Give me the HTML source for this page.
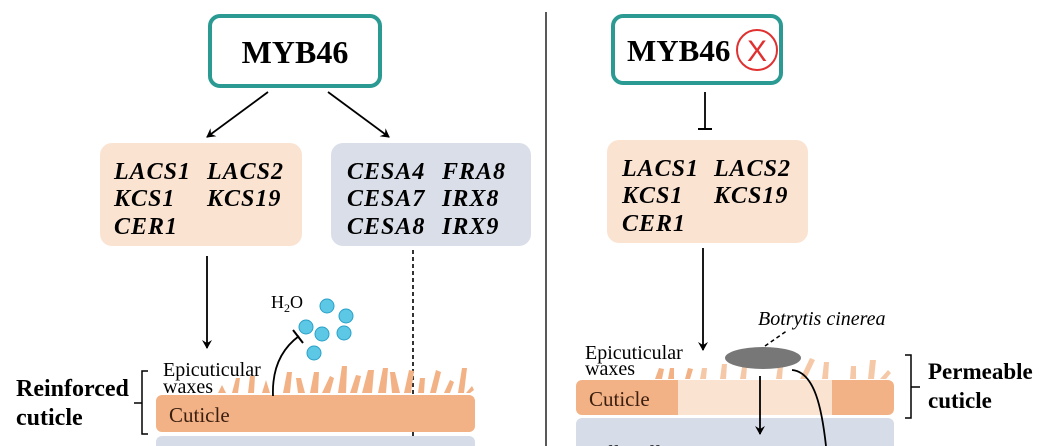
<!DOCTYPE html><html><head><style>body{margin:0;background:#fff}svg{display:block}</style></head><body>
<svg width="1050" height="446" viewBox="0 0 1050 446" xmlns="http://www.w3.org/2000/svg" font-family="Liberation Serif, serif">
<defs><marker id="a" markerWidth="10" markerHeight="10" refX="8" refY="5" orient="auto" markerUnits="userSpaceOnUse"><path d="M0,0 L9,5 L0,10 L3,5 Z" fill="#000"/></marker></defs>
<line x1="546" y1="12" x2="546" y2="446" stroke="#222" stroke-width="1.5"/>
<rect x="210" y="16" width="170" height="70" rx="10" fill="#fff" stroke="#2a9a92" stroke-width="4"/>
<text x="295" y="63" font-size="32" font-weight="bold" text-anchor="middle">MYB46</text>
<rect x="613" y="16" width="168" height="67" rx="10" fill="#fff" stroke="#2a9a92" stroke-width="4"/>
<text x="627" y="61" font-size="31" font-weight="bold">MYB46</text>
<circle cx="757" cy="50" r="20" fill="#fff" stroke="#e03030" stroke-width="2"/>
<text x="757" y="61" font-size="30" fill="#e03030" text-anchor="middle" font-family="Liberation Sans, sans-serif">X</text>
<line x1="268" y1="92" x2="207" y2="137" stroke="#000" stroke-width="1.8" marker-end="url(#a)"/>
<line x1="328" y1="92" x2="389" y2="137" stroke="#000" stroke-width="1.8" marker-end="url(#a)"/>
<line x1="705" y1="92" x2="705" y2="129" stroke="#000" stroke-width="1.8"/>
<line x1="698" y1="129" x2="712" y2="129" stroke="#000" stroke-width="2"/>
<g font-size="24" font-weight="bold" font-style="italic" letter-spacing="1">
<rect x="100" y="143" width="202" height="103" rx="12" fill="#fbe3d2"/>
<text x="114" y="179">LACS1</text><text x="207" y="179">LACS2</text>
<text x="114" y="206">KCS1</text><text x="207" y="206">KCS19</text>
<text x="114" y="234">CER1</text>
<rect x="331" y="143" width="200" height="103" rx="12" fill="#d9dee9"/>
<text x="347" y="179">CESA4</text><text x="442" y="179">FRA8</text>
<text x="347" y="206">CESA7</text><text x="442" y="206">IRX8</text>
<text x="347" y="234">CESA8</text><text x="442" y="234">IRX9</text>
<rect x="607" y="140" width="201" height="103" rx="12" fill="#fbe3d2"/>
<text x="622" y="176">LACS1</text><text x="714" y="176">LACS2</text>
<text x="622" y="203">KCS1</text><text x="714" y="203">KCS19</text>
<text x="622" y="231">CER1</text>
</g>
<line x1="207" y1="256" x2="207" y2="348" stroke="#000" stroke-width="1.8" marker-end="url(#a)"/>
<line x1="413" y1="250" x2="413" y2="444" stroke="#000" stroke-width="1.6" stroke-dasharray="4,3" marker-end="url(#a)"/>
<line x1="703" y1="248" x2="703" y2="350" stroke="#000" stroke-width="1.8" marker-end="url(#a)"/>
<rect x="156" y="436" width="319" height="20" rx="6" fill="#d6dce8"/>
<g fill="#f2b285">
<path d="M218,393 L222,385 L226,393 Z M232,393 L236,378 L240,378 L238,393 Z M248,393 L250,376 L255,376 L254,393Z M262,393 L266,380 L270,393Z M283,393 L287,372 L292,372 L290,393Z M298,393 L296,378 L301,378 L305,393Z M310,393 L314,372 L319,372 L318,393Z M322,393 L330,376 L334,378 L330,393Z M338,393 L342,366 L347,366 L346,393Z M350,393 L356,375 L361,376 L357,393Z M362,393 L368,370 L374,370 L372,393Z M378,393 L383,368 L388,368 L386,393Z M392,393 L390,372 L395,372 L400,393Z M404,393 L409,370 L414,371 L411,393Z M418,393 L420,378 L425,378 L424,393Z M430,393 L436,370 L441,372 L436,393Z M444,393 L450,380 L454,382 L450,393Z M458,393 L462,368 L467,368 L464,393Z M466,393 L472,386 L474,390 L470,393Z"/>
</g>
<rect x="156" y="395" width="319" height="37" rx="6" fill="#f2b285"/>
<text x="169" y="422" font-size="21" fill="#3a1e10">Cuticle</text>
<text x="163" y="376" font-size="20">Epicuticular</text>
<text x="163" y="393" font-size="20">waxes</text>
<text x="16" y="396" font-size="24" font-weight="bold">Reinforced</text>
<text x="16" y="425" font-size="24" font-weight="bold">cuticle</text>
<path d="M148,371 L142,371 L142,434 L148,434 M142,403 L134,403" fill="none" stroke="#000" stroke-width="1.5"/>
<text x="271" y="308" font-size="18">H<tspan font-size="12" dy="4">2</tspan><tspan dy="-4">O</tspan></text>
<g fill="#5cc8e6" stroke="#2aa0c8" stroke-width="1">
<circle cx="327" cy="306" r="7"/><circle cx="346" cy="316" r="7"/><circle cx="306" cy="327" r="7"/><circle cx="322" cy="334" r="7"/><circle cx="344" cy="333" r="7"/><circle cx="314" cy="353" r="7"/></g>
<path d="M273,396 C272,370 280,350 299,336" fill="none" stroke="#000" stroke-width="1.8"/>
<line x1="293" y1="330" x2="303" y2="343" stroke="#000" stroke-width="2"/>
<rect x="576" y="418" width="318" height="40" rx="6" fill="#d6dce8"/>
<text x="585" y="460" font-size="21">Cell wall</text>
<g fill="#f2b285">
<path d="M655,379 L659,368 L664,369 L662,379Z M668,379 L670,368 L674,368 L674,379Z M685,379 L688,368 L693,369 L690,379Z"/>
</g>
<g fill="#f5c9a8">
<path d="M700,379 L702,368 L707,368 L706,379Z M720,379 L722,364 L727,364 L726,379Z M740,379 L742,367 L747,367 L746,379Z M776,379 L778,366 L783,366 L782,379Z M800,379 L810,358 L815,360 L806,379Z M822,379 L824,362 L829,362 L828,379Z M850,379 L851,366 L856,366 L856,379Z M868,379 L870,360 L876,360 L874,379Z M880,379 L888,370 L891,373 L886,379Z"/>
</g>
<rect x="576" y="380" width="318" height="35" rx="6" fill="#f2b285"/>
<rect x="678" y="380" width="154" height="35" fill="#fbe3d2"/>
<text x="589" y="406" font-size="21" fill="#3a1e10">Cuticle</text>
<text x="585" y="359" font-size="20">Epicuticular</text>
<text x="585" y="375" font-size="20">waxes</text>
<ellipse cx="763" cy="358" rx="38" ry="11" fill="#777"/>
<text x="758" y="325" font-size="20" font-style="italic">Botrytis cinerea</text>
<line x1="765" y1="346" x2="788" y2="330" stroke="#000" stroke-width="1.5" stroke-dasharray="4,3"/>
<line x1="760" y1="376" x2="760" y2="434" stroke="#000" stroke-width="1.8" marker-end="url(#a)"/>
<path d="M792,370 C815,372 822,410 826,446" fill="none" stroke="#000" stroke-width="1.8"/>
<path d="M905,355 L911,355 L911,418 L905,418 M911,387 L920,387" fill="none" stroke="#000" stroke-width="1.5"/>
<text x="928" y="379" font-size="23" font-weight="bold">Permeable</text>
<text x="928" y="408" font-size="23" font-weight="bold">cuticle</text>
</svg></body></html>
